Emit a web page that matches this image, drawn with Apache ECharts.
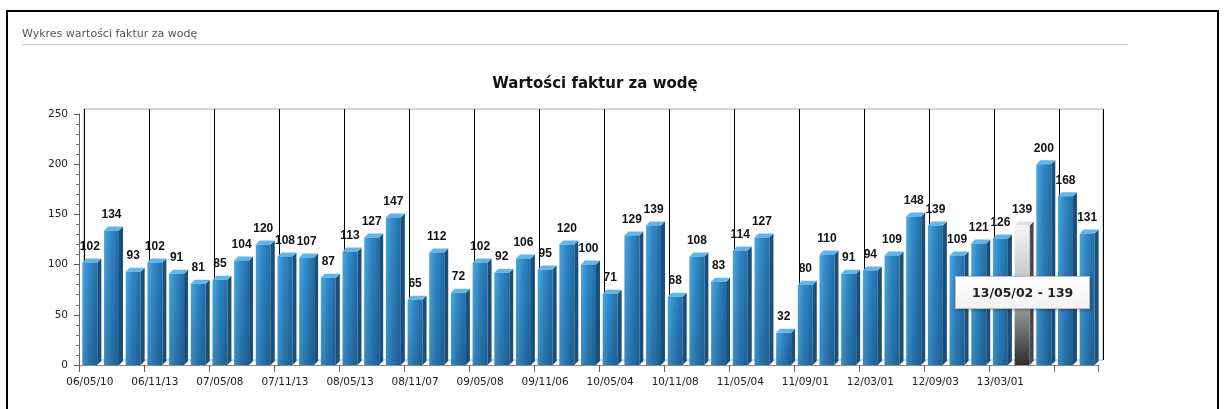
<!DOCTYPE html>
<html><head><meta charset="utf-8">
<script src="https://cdn.jsdelivr.net/npm/echarts@6/dist/echarts.min.js"></script>
<style>html,body{margin:0;padding:0;background:#fff;overflow:hidden;} #c{width:1227px;height:409px;}</style>
</head><body><div id="c"></div>
<script>
const pageTitle = 'Wykres wartości faktur za wodę';
const chartTitle = 'Wartości faktur za wodę';
const categories = ['06/05/10','','','06/11/13','','','07/05/08','','','07/11/13','','',
  '08/05/13','','','08/11/07','','','09/05/08','','','09/11/06','','','10/05/04','','',
  '10/11/08','','','11/05/04','','','11/09/01','','','12/03/01','','','12/09/03','','',
  '13/03/01','13/05/02','','',''];
const values = [102,134,93,102,91,81,85,104,120,108,107,87,113,127,147,65,112,72,102,92,
  106,95,120,100,71,129,139,68,108,83,114,127,32,80,110,91,94,109,148,139,109,121,126,139,
  200,168,131];
const yMin = 0, yMax = 250, yStep = 50;
const highlighted = '13/05/02';

const hi = categories.indexOf(highlighted);
const chart = echarts.init(document.getElementById('c'), null, {renderer:'canvas'});

function renderItem(params, api) {
  const i = api.value(0), v = api.value(1);
  const top = api.coord([i, v]);
  const base = api.coord([i, 0]);
  const band = api.size([1, 0])[0];
  const fw = band * 0.69, d = 4;
  const xl = top[0] - fw / 2, xr = xl + fw;
  const ty = top[1], by = base[1];
  const grey = i === hi;
  const frontFill = grey ?
    new echarts.graphic.LinearGradient(0, 0, 0, 1, [{offset:0,color:'#f6f6f6'},{offset:0.45,color:'#bdbdbd'},{offset:1,color:'#2e2e2e'}]) :
    new echarts.graphic.LinearGradient(0, 0, 1, 0, [{offset:0,color:'#4aa8e0'},{offset:0.45,color:'#3189c8'},{offset:1,color:'#236ea6'}]);
  const shade = new echarts.graphic.LinearGradient(0, 0, 0, 1, [{offset:0,color:'rgba(0,20,50,0)'},{offset:1,color:'rgba(0,20,50,0.2)'}]);
  const children = [
    {type:'polygon', shape:{points:[[xr,ty],[xr+d,ty-d],[xr+d,by-d],[xr,by]]},
      style:{fill: grey ? '#4a4a4a' : '#1b4f7b'}},
    {type:'polygon', shape:{points:[[xl,ty],[xl+d,ty-d],[xr+d,ty-d],[xr,ty]]},
      style:{fill: grey ? '#e2e2e2' : '#5fb6ea'}},
    {type:'rect', shape:{x:xl, y:ty, width:fw, height:by-ty}, style:{fill: frontFill}}
  ];
  if (!grey) children.push({type:'rect', shape:{x:xl, y:ty, width:fw, height:by-ty}, style:{fill: shade}});
  children.push({type:'text', style:{text:String(v), x:top[0], y:ty-16, align:'center', verticalAlign:'middle',
    fontFamily:'Liberation Sans', fontWeight:'bold', fontSize:12, fill:'#111'}});
  return {type:'group', children};
}

const every3 = (idx) => idx % 3 === 0;

chart.setOption({
  animation: false,
  backgroundColor: '#fff',
  title: {text: chartTitle, left: 590, top: 72, textAlign: 'center',
    textStyle: {fontFamily:'DejaVu Sans', fontWeight:'bold', fontSize:15, color:'#111'}},
  graphic: [
    {type:'rect', shape:{x:7, y:11, width:1211, height:420}, style:{fill:'none', stroke:'#000', lineWidth:2}, z:100},
    {type:'text', left:22, top:29, style:{text: pageTitle, fontFamily:'DejaVu Sans', fontSize:11, fill:'#555'}},
    {type:'line', shape:{x1:22, y1:44.5, x2:1128, y2:44.5}, style:{stroke:'#c4c4c4', lineWidth:1}}
  ],
  grid: [
    {left:84, right:124, top:109, bottom:49, show:true, borderColor:'#b0b0b0', borderWidth:1, backgroundColor:'transparent'},
    {left:79, right:129, top:114, bottom:44}
  ],
  xAxis: [
    {gridIndex:0, type:'category', data:categories, boundaryGap:true,
      axisLine:{show:false}, axisTick:{show:false}, axisLabel:{show:false},
      splitLine:{show:true, interval: every3, lineStyle:{color:'#000', width:1}}},
    {gridIndex:1, type:'category', data:categories, boundaryGap:true,
      axisLine:{show:true, lineStyle:{color:'#888'}},
      axisTick:{show:true, interval: every3, length:7, lineStyle:{color:'#666'}},
      axisLabel:{show:true, interval: every3, margin:12, fontFamily:'DejaVu Sans', fontSize:10.5, color:'#222'},
      splitLine:{show:false}}
  ],
  yAxis: [
    {gridIndex:0, type:'value', min:yMin, max:yMax, interval:yStep, show:false, splitLine:{show:false}},
    {gridIndex:1, type:'value', min:yMin, max:yMax, interval:yStep,
      axisLine:{show:true, lineStyle:{color:'#666'}},
      axisTick:{show:true, length:5, lineStyle:{color:'#555'}},
      minorTick:{show:true, splitNumber:5, length:3, lineStyle:{color:'#666'}},
      axisLabel:{margin:11, fontFamily:'DejaVu Sans', fontSize:10.5, color:'#222'},
      splitLine:{show:false}}
  ],
  tooltip: {
    trigger:'item', triggerOn:'none', alwaysShowContent:true, transitionDuration:0, showDelay:0,
    backgroundColor:'#ffffff', borderColor:'#bdbdbd', borderWidth:1, borderRadius:0, padding:[8,16],
    textStyle:{fontFamily:'DejaVu Sans', fontWeight:'bold', fontSize:12.5, color:'#222', lineHeight:15},
    extraCssText:'border-radius:0;box-shadow:1px 1px 3px rgba(0,0,0,0.35);background:linear-gradient(#ffffff,#f2f2f2);',
    formatter: (p) => categories[p.dataIndex] + ' - ' + values[p.dataIndex],
    position: function (point, params, dom, rect, size) {
      const t = chart.convertToPixel({gridIndex:1}, [params.dataIndex, values[params.dataIndex]]);
      const b = chart.convertToPixel({gridIndex:1}, [params.dataIndex, 0]);
      return [t[0] - size.contentSize[0] / 2, (t[1] + b[1]) / 2 - size.contentSize[1] / 2 - 3];
    }
  },
  series: [{
    type:'custom', xAxisIndex:1, yAxisIndex:1, renderItem,
    data: values.map((v, i) => [i, v]),
    encode:{x:0, y:1}, z:5
  }]
});
chart.dispatchAction({type:'showTip', seriesIndex:0, dataIndex:hi});
</script>
</body></html>
